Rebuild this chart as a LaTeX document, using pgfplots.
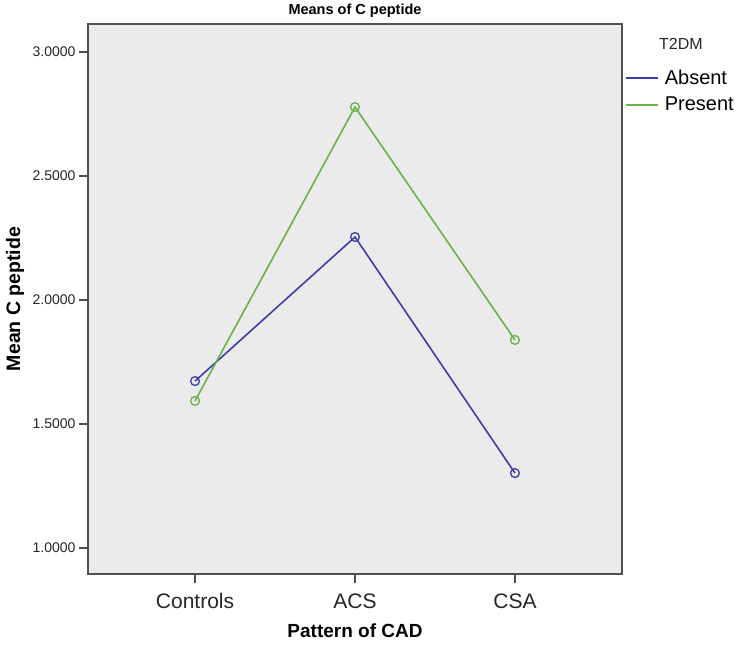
\documentclass[border=0pt]{standalone}
\usepackage{fontspec}
\setmainfont{Liberation Sans}
\usepackage{pgfplots}
\pgfplotsset{compat=1.18}

\definecolor{absentc}{RGB}{62,62,170}
\definecolor{presentc}{RGB}{104,178,72}
\definecolor{panel}{RGB}{235,235,235}
\definecolor{framec}{RGB}{80,80,80}

\begin{document}
\begin{tikzpicture}
\begin{axis}[
  at={(0pt,0pt)}, anchor=south west,
  scale only axis, width=534pt, height=550pt,
  xmin=-0.669, xmax=2.669, ymin=0.895, ymax=3.113,
  xtick={0,1,2}, xticklabels={Controls,ACS,CSA},
  ytick={1,1.5,2,2.5,3},
  /pgf/number format/fixed, /pgf/number format/fixed zerofill,
  /pgf/number format/precision=4, /pgf/number format/assume math mode=true,
  tick pos=left, tick align=outside, major tick length=9pt,
  tick style={framec, line width=1.3pt},
  axis line style={framec, line width=1.6pt},
  axis background/.style={fill=panel},
  yticklabel style={font=\fontsize{14}{14}\selectfont, color=black!85},
  xticklabel style={font=\fontsize{21}{21}\selectfont, color=black!85, yshift=-7pt},
  title={Means of C peptide},
  title style={font=\fontsize{14.5}{14.5}\selectfont\bfseries, at={(axis description cs:0.5,1)}, anchor=center, yshift=7pt},
  xlabel={Pattern of CAD},
  xlabel style={font=\fontsize{19}{19}\selectfont\bfseries, at={(axis description cs:0.5,0)}, anchor=center, yshift=-57pt},
  ylabel={Mean C peptide},
  ylabel style={font=\fontsize{19.5}{19.5}\selectfont\bfseries, at={(axis description cs:-0.1367,0.5)}, anchor=center},
  legend style={draw=none, fill=none, inner sep=0pt, at={(axis description cs:1.0056,0.92)}, anchor=north west,
    font=\fontsize{20}{20}\selectfont, row sep=7pt, cells={anchor=west}},
  legend image code/.code={\draw[#1] (0pt,0pt) -- (32pt,0pt); \path (36pt,0pt);},
  clip=false,
]
\addplot[color=absentc, line width=1.6pt, mark=o, mark size=4.4pt, mark options={line width=1.3pt}]
  coordinates {(0,1.673) (1,2.254) (2,1.302)};
\addlegendentry{Absent}
\addplot[color=presentc, line width=1.6pt, mark=o, mark size=4.4pt, mark options={line width=1.3pt}]
  coordinates {(0,1.593) (1,2.778) (2,1.839)};
\addlegendentry{Present}
\node[font=\fontsize{16}{16}\selectfont, anchor=west, inner sep=0pt, color=black!85] at (axis description cs:1.0693,0.9636) {T2DM};
\end{axis}
\pgfresetboundingbox
\path[use as bounding box] (-88pt,-71pt) rectangle (649pt,574pt);
\end{tikzpicture}
\end{document}
